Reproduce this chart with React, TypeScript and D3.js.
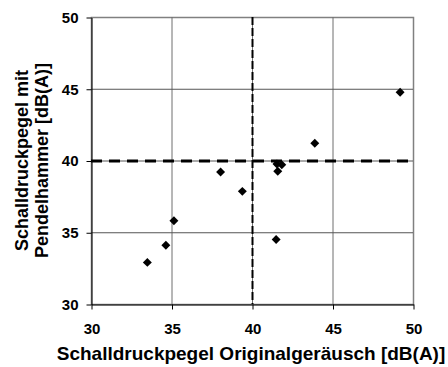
import { useEffect, useRef } from 'react'
import * as d3 from 'd3'

const width = 448
const height = 367
const margin = { top: 17, right: 35, bottom: 63, left: 91 }

// Originalgeräusch (x) vs. Pendelhammer (y), dB(A)
const original = [49.2, 43.9, 38.05, 39.4, 41.55, 41.85, 41.6, 35.15, 41.5, 34.65, 33.5]
const pendel = [44.75, 41.2, 39.2, 37.85, 39.75, 39.7, 39.25, 35.8, 34.5, 34.1, 32.9]
const xTicks = [30, 35, 40, 45, 50]
const yTicks = [30, 35, 40, 45, 50]

const font = '"Liberation Sans", Arial, sans-serif'

function App() {
  const ref = useRef<SVGSVGElement>(null)

  useEffect(() => {
    document.body.style.margin = '0'
    const svg = d3.select(ref.current)
    svg.selectAll('*').remove()

    const innerWidth = width - margin.left - margin.right
    const innerHeight = height - margin.top - margin.bottom

    const x = d3.scaleLinear().domain([30, 50]).range([0, innerWidth])
    const y = d3.scaleLinear().domain([30, 50]).range([innerHeight, 0])

    const g = svg.append('g').attr('transform', `translate(${margin.left},${margin.top})`)

    // plot border + grid
    g.append('rect')
      .attr('x', 0.5)
      .attr('y', 0.5)
      .attr('width', innerWidth)
      .attr('height', innerHeight)
      .attr('fill', 'none')
      .attr('stroke', '#808080')
      .attr('stroke-width', 1.5)
    g.selectAll('.gx')
      .data(xTicks.slice(1, -1))
      .join('line')
      .attr('x1', d => x(d) + 0.5)
      .attr('x2', d => x(d) + 0.5)
      .attr('y1', 0)
      .attr('y2', innerHeight)
      .attr('stroke', '#6e6e6e')
    g.selectAll('.gy')
      .data(yTicks.slice(1, -1))
      .join('line')
      .attr('y1', d => y(d) + 0.5)
      .attr('y2', d => y(d) + 0.5)
      .attr('x1', 0)
      .attr('x2', innerWidth)
      .attr('stroke', '#555')

    // reference lines at 40
    g.append('line')
      .attr('x1', x(40) + 0.5)
      .attr('x2', x(40) + 0.5)
      .attr('y1', 0)
      .attr('y2', innerHeight)
      .attr('stroke', '#000')
      .attr('stroke-width', 2)
      .attr('stroke-dasharray', '8,3')
    g.append('line')
      .attr('x1', 0)
      .attr('x2', innerWidth)
      .attr('y1', y(40) + 0.5)
      .attr('y2', y(40) + 0.5)
      .attr('stroke', '#000')
      .attr('stroke-width', 3)
      .attr('stroke-dasharray', '11,7')

    // axes
    const xAxis = g.append('g')
      .attr('transform', `translate(0.5,${innerHeight + 0.5})`)
      .call(d3.axisBottom(x).tickValues(xTicks).tickSize(5).tickSizeOuter(0).tickPadding(14))
    const yAxis = g.append('g')
      .attr('transform', 'translate(0.5,0.5)')
      .call(d3.axisLeft(y).tickValues(yTicks).tickSize(5).tickSizeOuter(0).tickPadding(8))
    ;[xAxis, yAxis].forEach(a => {
      a.select('.domain').attr('stroke', '#000')
      a.selectAll('line').attr('stroke', '#000')
      a.selectAll('text')
        .attr('font-family', font)
        .attr('font-size', 15)
        .attr('font-weight', 'bold')
        .attr('fill', '#000')
    })

    // points
    const diamond = d3.symbol().type(d3.symbolSquare).size(40)
    g.selectAll('.pt')
      .data(original.map((v, i) => [v, pendel[i]]))
      .join('path')
      .attr('d', diamond)
      .attr('transform', d => `translate(${x(d[0])},${y(d[1])}) rotate(45)`)
      .attr('fill', '#000')

    // titles
    svg.append('text')
      .attr('x', 251)
      .attr('y', 360)
      .attr('text-anchor', 'middle')
      .attr('font-family', font)
      .attr('font-size', 19)
      .attr('font-weight', 'bold')
      .text('Schalldruckpegel Originalgeräusch [dB(A)]')

    const yt = svg.append('text')
      .attr('transform', `translate(0,${margin.top + innerHeight / 2}) rotate(-90)`)
      .attr('text-anchor', 'middle')
      .attr('font-family', font)
      .attr('font-size', 18)
      .attr('font-weight', 'bold')
    yt.append('tspan').attr('x', 0).attr('y', 28).text('Schalldruckpegel mit')
    yt.append('tspan').attr('x', 0).attr('y', 48).text('Pendelhammer [dB(A)]')
  }, [])

  return <svg ref={ref} width={width} height={height} style={{ display: 'block', background: '#fff' }} />
}

export default App
